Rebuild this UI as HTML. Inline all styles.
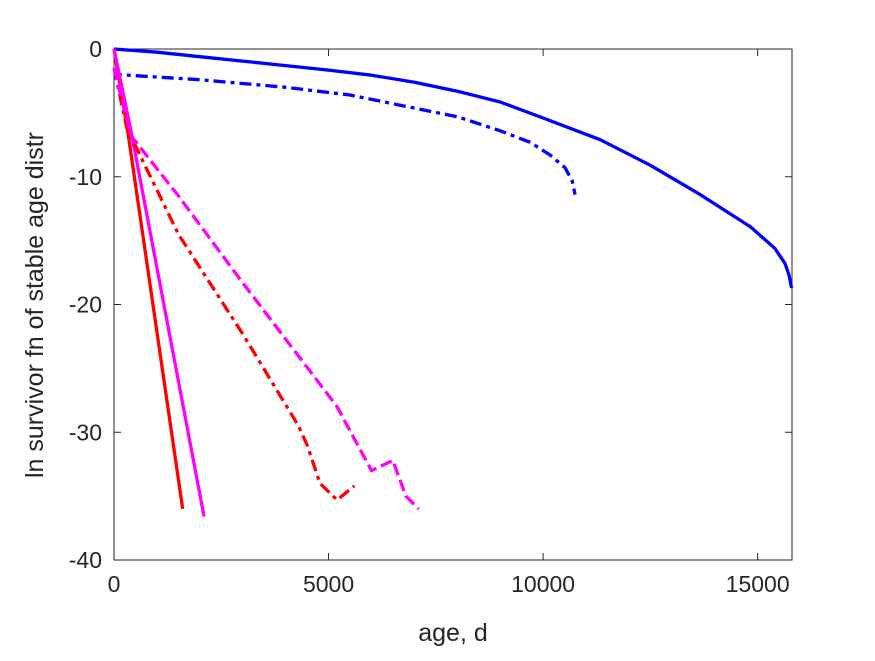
<!DOCTYPE html>
<html><head><meta charset="utf-8"><style>
body{margin:0;background:#fff;}
svg text{font-family:"Liberation Sans",Arial,sans-serif;fill:#262626;}
</style></head><body>
<svg id="chart" width="875" height="656" xmlns="http://www.w3.org/2000/svg">
<rect width="875" height="656" fill="#fff"/>
<g id="plot"></g>
</svg>
<script>
const xTicks=[0,5000,10000,15000];
const yTicks=[0,-10,-20,-30,-40];
const blueSolidX=[0,1000,2000,3000,4000,5000,6000,7000,8000,9000,10000,11330,12500,13660,14825,15400,15640,15730,15790];
const blueSolidY=[0,-0.25,-0.6,-0.95,-1.3,-1.65,-2.05,-2.6,-3.3,-4.15,-5.4,-7.1,-9.1,-11.4,-13.9,-15.6,-16.8,-17.7,-18.7];
const blueDashX=[0,60,2000,4000,5500,6667,8000,9000,9700,10163,10513,10676,10746];
const blueDashY=[-1.5,-2.0,-2.4,-3.0,-3.6,-4.4,-5.3,-6.4,-7.3,-8.3,-9.3,-10.3,-11.4];
const redSolidX=[0,300,1600];
const redSolidY=[0,-6,-36];
const magSolidX=[0,400,2100];
const magSolidY=[0,-6.5,-36.6];
const redDashX=[0,300,1500,3000,4300,4500,4800,5200,5600];
const redDashY=[-1.5,-6.2,-14.5,-22.3,-29.5,-31,-34,-35.3,-34.2];
const magDashX=[0,400,1500,3000,5200,6000,6500,6800,7100];
const magDashY=[-1.5,-6.8,-11.5,-18.3,-28,-33,-32.2,-35,-36];
const L=114,R=792,T=49,B=560,XMAX=15800,YMIN=-40,YMAX=0;
const sx=v=>L+(v/XMAX)*(R-L);
const sy=v=>T+(YMAX-v)/(YMAX-YMIN)*(B-T);
const g=document.getElementById('plot');
const NS='http://www.w3.org/2000/svg';
function mk(t,a){const e=document.createElementNS(NS,t);for(const k in a)e.setAttribute(k,a[k]);g.appendChild(e);return e;}
const box=mk('rect',{x:L,y:T,width:R-L,height:B-T,fill:'none',stroke:'#262626','stroke-width':1});


xTicks.forEach(v=>{
 const t=mk('line',{x1:sx(v),x2:sx(v),y1:B,y2:B-7,stroke:'#262626'});
 
 
 const t2=mk('line',{x1:sx(v),x2:sx(v),y1:T,y2:T+7,stroke:'#262626'});
 
 
 const l=mk('text',{x:sx(v),y:B+32,'text-anchor':'middle','font-size':23});
 l.textContent=v;
 
 
});
yTicks.forEach(v=>{
 const t=mk('line',{x1:L,x2:L+7,y1:sy(v),y2:sy(v),stroke:'#262626'});
 
 
 const t2=mk('line',{x1:R,x2:R-7,y1:sy(v),y2:sy(v),stroke:'#262626'});
 
 
 const l=mk('text',{x:L-12,y:sy(v)+8,'text-anchor':'end','font-size':23});
 l.textContent=v;
 
 
});
function series(xs,ys,color,dash,name){
 const d=xs.map((x,i)=>(i?'L':'M')+sx(x).toFixed(1)+','+sy(ys[i]).toFixed(1)).join(' ');
 const p=mk('path',{d:d,fill:'none',stroke:color,'stroke-width':3.3,'stroke-dasharray':dash,'stroke-linejoin':'round'});
 
 
}
series(blueSolidX,blueSolidY,'#0000ff','none','blue-solid-line');
series(blueDashX,blueDashY,'#0000ff','12,5,4,5','blue-dashdot-line');
series(redSolidX,redSolidY,'#ff0000','none','red-solid-line');
series(magSolidX,magSolidY,'#ff00ff','none','magenta-solid-line');
series(redDashX,redDashY,'#ff0000','12,5,4,5','red-dashdot-line');
series(magDashX,magDashY,'#ff00ff','12,5','magenta-dashed-line');
const xl=mk('text',{x:(L+R)/2,y:641,'text-anchor':'middle','font-size':25});
xl.textContent='age, d';


const yl=mk('text',{x:0,y:0,'text-anchor':'middle','font-size':25,transform:'translate(43,305) rotate(-90)'});
yl.textContent='ln survivor fn of stable age distr';


</script>
</body></html>
